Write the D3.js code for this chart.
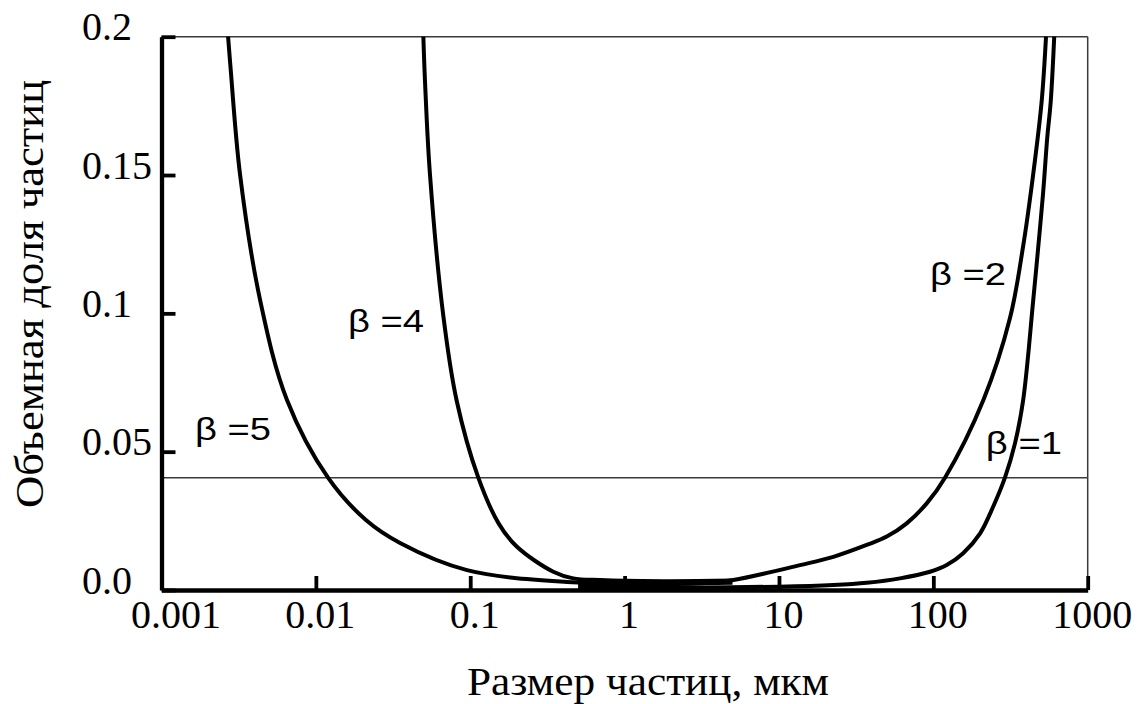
<!DOCTYPE html>
<html>
<head>
<meta charset="utf-8">
<script src="https://cdn.jsdelivr.net/npm/d3@7"></script>
<style>
  body { margin: 0; background: #fff; }
  svg { display: block; }
</style>
</head>
<body>
<div id="chart"></div>
<script>
// размер частиц (мкм) и объемная доля
var xTicks = [0.001, 0.01, 0.1, 1, 10, 100, 1000];
var xTickLabels = ["0.001", "0.01", "0.1", "1", "10", "100", "1000"];
var yTicks = [0, 0.05, 0.1, 0.15, 0.2];
var yTickLabels = ["0.0", "0.05", "0.1", "0.15", "0.2"];
var thresholdValue = 0.0406;

var beta5 = [[0.00270,0.2],[0.00280,0.1889],[0.00323,0.15],[0.00435,0.1049],[0.00650,0.0687],
  [0.01199,0.0406],[0.0211,0.0253],[0.0351,0.0170],[0.0953,0.0072],[0.424,0.0029],
  [1.46,0.0024],[5,0.0026]];
var beta4 = [[0.0497,0.2],[0.0510,0.1831],[0.0548,0.1505],[0.0669,0.0992],[0.0817,0.0684],
  [0.1128,0.0406],[0.1530,0.0240],[0.200,0.0157],[0.345,0.0066],[0.465,0.0042],
  [0.692,0.0036],[1,0.0033],[2,0.0032],[5,0.0034]];
var beta2 = [[0.5,0.0021],[1,0.0020],[2,0.0021],[3.08,0.0024],[5.06,0.0036],[13.7,0.0090],
  [22.5,0.0120],[37,0.0163],[49.9,0.0193],[67.2,0.0241],[90.6,0.0313],[119,0.0406],
  [211,0.0687],[314,0.0984],[382,0.1244],[444,0.1505],[503,0.1765],[537,0.2]];
var beta1 = [[0.5,0.0009],[1,0.0008],[3,0.0009],[10,0.0012],[22.5,0.0018],[37,0.0026],
  [60.8,0.0042],[95.1,0.0066],[122,0.0090],[156,0.0133],[201,0.0205],[244,0.0301],
  [291,0.0406],[338,0.0530],[382,0.0687],[444,0.1049],[479,0.1244],[515,0.1440],
  [547,0.1635],[576,0.1765],[607,0.2]];

var seriesNames = ["β =5", "β =4", "β =2", "β =1"];
var seriesData = [beta5, beta4, beta2, beta1];
// точка привязки подписи (x в мкм, y в долях)
var labelAnchors = [[0.00165, 0.0542], [0.01614, 0.0933], [95.1, 0.1102], [219, 0.0492]];

drawChart();

function drawChart() {
  var width = 1141, height = 704;
  var plotLeft = 161.5, plotRight = 1087.7, plotTop = 36.7, plotBottom = 590;
  var serif = "'Liberation Serif', 'Times New Roman', serif";

  var svg = d3.select("#chart").append("svg")
    .attr("width", width)
    .attr("height", height);

  var x = d3.scaleLog().domain([0.001, 1000]).range([plotLeft, plotRight]);
  var y = d3.scaleLinear().domain([0, 0.2]).range([plotBottom, plotTop]);

  svg.append("defs").append("clipPath").attr("id", "plot-clip")
    .append("rect")
    .attr("x", plotLeft).attr("y", plotTop - 1)
    .attr("width", plotRight - plotLeft).attr("height", plotBottom - plotTop + 1);

  // тонкая рамка сверху и справа, горизонтальная линия
  var thin = svg.append("g").attr("stroke", "#3a3a3a").attr("stroke-width", 1.5).attr("fill", "none");
  thin.append("line").attr("x1", x(0.001)).attr("x2", x(1000)).attr("y1", y(0.2)).attr("y2", y(0.2));
  thin.append("line").attr("x1", x(1000)).attr("x2", x(1000)).attr("y1", y(0.2)).attr("y2", y(0));
  thin.append("line").attr("x1", x(0.001)).attr("x2", x(1000))
    .attr("y1", y(thresholdValue)).attr("y2", y(thresholdValue));

  // кривые
  var line = d3.line()
    .x(function (d) { return x(d[0]); })
    .y(function (d) { return y(d[1]); })
    .curve(d3.curveCatmullRom.alpha(0.5));

  svg.append("g").attr("clip-path", "url(#plot-clip)")
    .selectAll("path")
    .data(seriesData)
    .enter().append("path")
    .attr("d", line)
    .attr("fill", "none")
    .attr("stroke", "#000")
    .attr("stroke-width", 4)
    .attr("stroke-linejoin", "round");

  // оси
  var xAxis = d3.axisBottom(x)
    .tickValues(xTicks)
    .tickSize(-14)
    .tickSizeOuter(0)
    .tickFormat(function (d, i) { return xTickLabels[i]; });

  var gx = svg.append("g")
    .attr("transform", "translate(0," + plotBottom + ")")
    .call(xAxis);

  var yAxis = d3.axisLeft(y)
    .tickValues(yTicks)
    .tickSize(-14)
    .tickSizeOuter(0)
    .tickFormat(function (d, i) { return yTickLabels[i]; });

  var gy = svg.append("g")
    .attr("transform", "translate(" + plotLeft + ",0)")
    .call(yAxis);

  [gx, gy].forEach(function (g) {
    g.select(".domain").attr("stroke", "#000").attr("stroke-width", 4.3);
    g.selectAll(".tick line").attr("stroke", "#000").attr("stroke-width", 3.8);
    g.selectAll(".tick text")
      .attr("fill", "#000")
      .style("font-family", serif)
      .style("font-size", "40px");
  });

  gx.selectAll(".tick text")
    .attr("y", 38)
    .attr("dy", null)
    .attr("dx", function (d, i) { return i === 0 ? 14 : 4; });

  gy.selectAll(".tick text")
    .attr("x", 82 - plotLeft)
    .attr("dy", null)
    .attr("y", 3)
    .attr("text-anchor", "start");

  // подписи осей
  svg.append("text")
    .attr("x", 467)
    .attr("y", 695)
    .attr("textLength", 362)
    .attr("lengthAdjust", "spacingAndGlyphs")
    .style("font-family", serif)
    .style("font-size", "39px")
    .text("Размер частиц, мкм");

  svg.append("text")
    .attr("transform", "translate(43,294) rotate(-90)")
    .attr("text-anchor", "middle")
    .attr("textLength", 428)
    .attr("lengthAdjust", "spacingAndGlyphs")
    .style("font-family", serif)
    .style("font-size", "39px")
    .text("Объемная доля частиц");

  // подписи кривых
  svg.append("g").selectAll("text")
    .data(seriesNames)
    .enter().append("text")
    .attr("x", function (d, i) { return x(labelAnchors[i][0]); })
    .attr("y", function (d, i) { return y(labelAnchors[i][1]); })
    .attr("textLength", 76)
    .attr("lengthAdjust", "spacingAndGlyphs")
    .style("font-family", "'Liberation Sans', Arial, sans-serif")
    .style("font-size", "31px")
    .text(function (d) { return d; });
}
</script>
</body>
</html>
